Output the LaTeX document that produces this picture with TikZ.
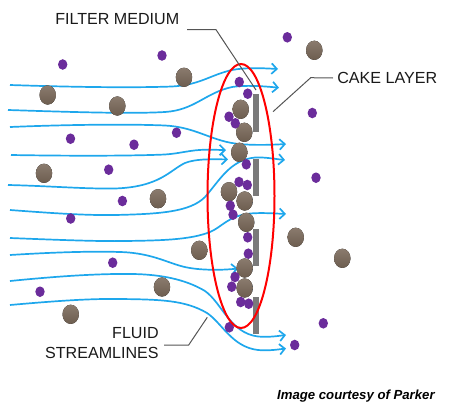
\documentclass[tikz,border=0pt]{standalone}
\usepackage{fontspec}
\usetikzlibrary{arrows.meta}
\setmainfont{Liberation Sans}
\definecolor{flowblue}{HTML}{1EA7EC}
\definecolor{grainpurple}{HTML}{6B2C9B}
\definecolor{graindark}{HTML}{6D5D4F}
\definecolor{grainlight}{HTML}{8A7B6E}
\definecolor{mediumgray}{HTML}{7A7A7A}
\definecolor{leadergray}{HTML}{555555}
\tikzset{
    flowend/.style={flowblue, line width=0.034cm, -{Straight Barb[length=3pt,width=6pt]}},
    leader/.style={leadergray, line width=0.02cm},
    callout/.style={inner sep=0pt, font=\fontsize{9.15}{11.4}\selectfont, text=black!90},
}
\begin{document}
\begin{tikzpicture}[x=0.02cm, y=-0.02cm]
    \useasboundingbox (0, 0) rectangle (450, 416);

    % === Streamlines, top to bottom ===
    \draw[flowend] (10,85) .. controls (70,87) and (130,88) .. (172,86.5) .. controls (200,85) and (210,75) .. (232,70) .. controls (245,67.5) and (260,68) .. (278,69);
    \draw[flowend] (8,110) .. controls (70,112) and (130,114) .. (165,112) .. controls (195,110) and (205,93) .. (232,87) .. controls (245,85) and (262,86) .. (279,87.7);
    \draw[flowend] (10,127) .. controls (70,124.5) and (130,124) .. (165,125.5) .. controls (195,127) and (210,140) .. (235,143.5) .. controls (250,145.5) and (270,145) .. (286,144);
    \draw[flowend] (11,155) .. controls (70,156) and (130,156) .. (165,154.5) .. controls (180,153.5) and (190,150) .. (205,149.7) .. controls (212,149.6) and (220,150) .. (226,150);
    \draw[flowend] (8,185) .. controls (50,186) and (85,189) .. (115,188.5) .. controls (160,187) and (170,170) .. (185,163) .. controls (195,159) and (210,159) .. (228,159.5);
    \draw[flowend] (10,210) .. controls (50,213) and (85,215.5) .. (115,215) .. controls (160,214) and (190,212) .. (205,197) .. controls (220,180) and (230,160) .. (255,157.5) .. controls (265,157) and (275,159) .. (285,160);
    \draw[flowend] (10,238) .. controls (60,240) and (100,241.5) .. (125,241) .. controls (160,240.5) and (190,240) .. (210,232) .. controls (222,227) and (228,216) .. (250,213.5) .. controls (262,212.5) and (275,213.5) .. (286,214);
    \draw[flowend] (10,255) .. controls (50,252.5) and (90,251) .. (120,252) .. controls (155,253) and (170,265) .. (190,268) .. controls (205,270.5) and (225,270) .. (238,268.5);
    \draw[flowend] (10,281) .. controls (60,276) and (100,273.5) .. (133,274) .. controls (160,274.5) and (185,279) .. (205,291) .. controls (222,303) and (230,333) .. (258,336.5) .. controls (268,337.5) and (278,336) .. (286,335);
    \draw[flowend] (10,305) .. controls (55,301) and (90,298.5) .. (120,299) .. controls (160,299.5) and (185,300) .. (207,313) .. controls (222,323) and (232,347) .. (258,350) .. controls (268,351) and (278,349.5) .. (286,348.5);

    % === Filter medium bars ===
    \foreach \ytop in {94.3, 158.7, 228.7, 296.7}
        \fill[mediumgray] (253, \ytop) rectangle (259, \ytop + 37.5);

    % === Large particles ===
    \foreach \px/\py in {184/77.3, 47.7/95, 117.3/106, 44/173.3, 158/198.7, 199.3/250.3, 162/287, 70.7/314.3,
        314.3/50.3, 240.7/109.3, 244.3/132.3, 239.3/152.3, 229/191.7, 244.7/201, 246.3/222.3,
        295.7/237.3, 342.3/258.3, 244.7/268, 244.7/288}
        \fill[top color=grainlight, bottom color=graindark]
            (\px, \py) ellipse [x radius=8.2, y radius=9.6];

    % === Small particles ===
    \foreach \px/\py in {62.7/64.5, 162/55.5, 70.5/138.7, 134/144.7, 176.5/132.7, 108.7/169.7, 122.4/201,
        70.7/218.5, 112.7/262.7, 40/291.7, 287.3/37.3, 239.3/82, 247.7/93.7, 229/116.7, 235.3/123.3,
        312.3/113, 246.3/164.3, 316/177.7, 239/182, 247.3/185, 230.3/205.7, 233/214.7, 247.7/237.3,
        248.3/253.7, 235/277, 231.7/286.7, 240.7/302, 248.7/303.7, 229.3/327.3, 323.3/323.3, 294.7/345}
        \fill[grainpurple] (\px, \py) ellipse [x radius=4.7, y radius=5.3];

    % === Red loop ===
    \draw[red, line width=0.04cm] (241, 196) ellipse [x radius=33.5, y radius=132];

    % === Labels and leaders ===
    \node[callout, anchor=west] (filterlabel) at (55, 19) {FILTER MEDIUM};
    \node[callout, anchor=west] (cakelabel) at (337, 78) {CAKE LAYER};
    \node[callout, align=right, anchor=east] (fluidlabel) at (159, 343) {FLUID\\STREAMLINES};
    \node[anchor=east, inner sep=0pt, font=\fontsize{7.5}{9}\selectfont\bfseries\itshape] (courtesylabel) at (435, 396) {Image courtesy of Parker};

    \coordinate (filterstart) at (187, 29.7);
    \coordinate (filterknee) at (216, 29.7);
    \coordinate (filtertip) at (256, 90);
    \coordinate (cakeknee) at (310.7, 77.7);
    \coordinate (caketip) at (273, 111.7);
    \coordinate (fluidknee) at (188.7, 345);
    \coordinate (fluidtip) at (207.3, 317.3);

    \draw[leader] (filterstart) -- (filterknee) -- (filtertip);
    \draw[leader] (cakelabel.west) ++(-4, 0) -- (cakeknee) -- (caketip);
    \draw[leader] (fluidlabel.east) ++(5, 2) -- (fluidknee) -- (fluidtip);
\end{tikzpicture}
\end{document}
